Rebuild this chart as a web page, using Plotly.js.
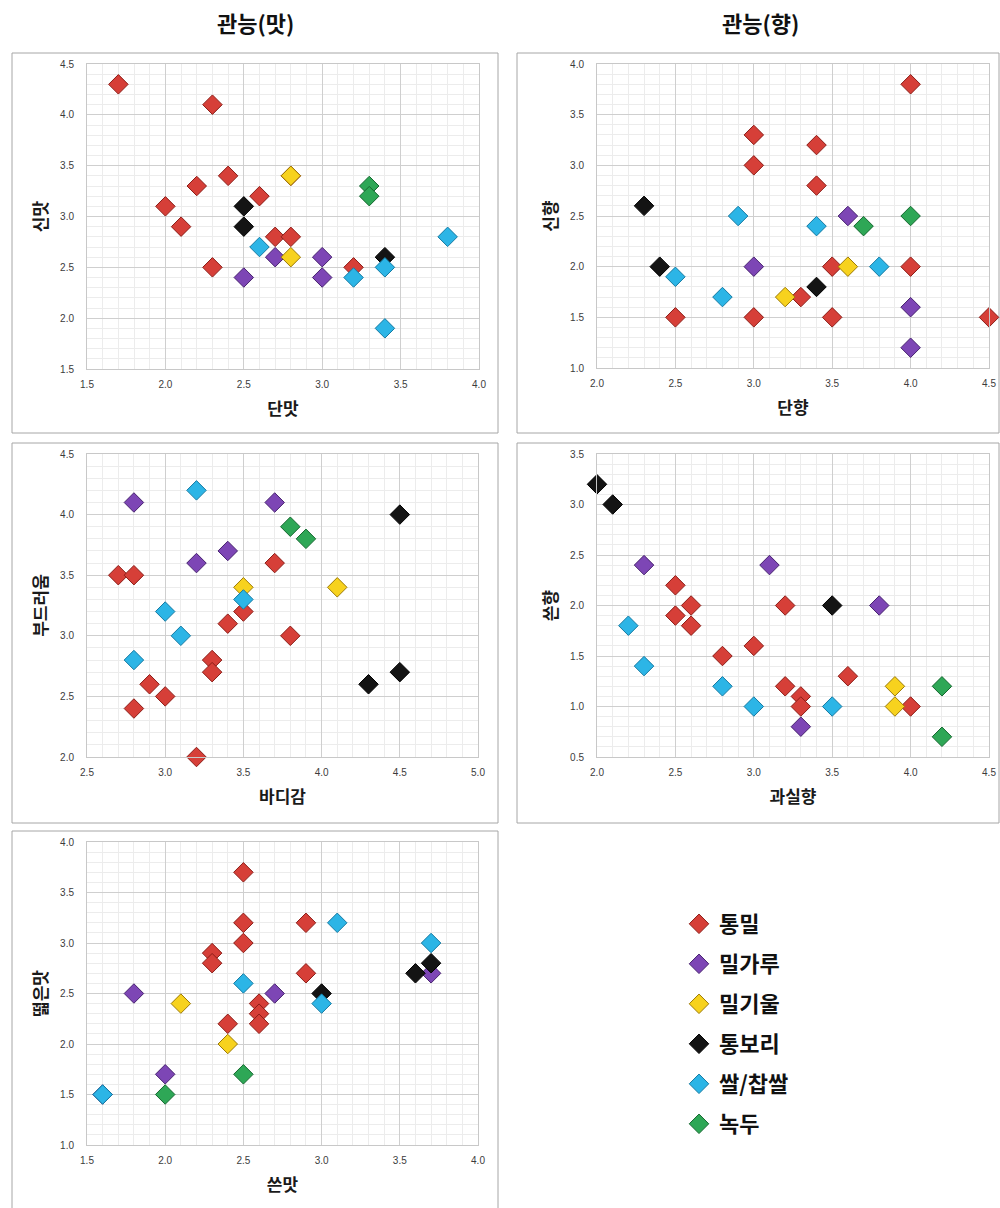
<!DOCTYPE html>
<html>
<head>
<meta charset="utf-8">
<script src="https://cdn.plot.ly/plotly-3.0.1.min.js"></script>
<style>
  html, body { margin: 0; padding: 0; background: #ffffff; }
  #chart { width: 1000px; height: 1208px; }
</style>
</head>
<body>
<div id="chart"></div>
<script>
// ---- categories ----
const seriesNames = ['통밀', '밀가루', '밀기울', '통보리', '쌀/찹쌀', '녹두'];

// ---- panel 1: 단맛 (x) vs 신맛 (y) ----
const p1_red_x    = [1.7, 2.3, 2.4, 2.2, 2.0, 2.1, 2.6, 2.7, 2.8, 2.3, 3.2, 2.8];
const p1_red_y    = [4.3, 4.1, 3.4, 3.3, 3.1, 2.9, 3.2, 2.8, 2.8, 2.5, 2.5, 3.4];
const p1_purple_x = [2.5, 2.7, 3.0, 3.0];
const p1_purple_y = [2.4, 2.6, 2.6, 2.4];
const p1_yellow_x = [2.8, 2.8];
const p1_yellow_y = [3.4, 2.6];
const p1_black_x  = [2.5, 2.5, 3.4];
const p1_black_y  = [3.1, 2.9, 2.6];
const p1_cyan_x   = [2.6, 3.2, 3.4, 3.4, 3.8];
const p1_cyan_y   = [2.7, 2.4, 2.5, 1.9, 2.8];
const p1_green_x  = [3.3, 3.3];
const p1_green_y  = [3.3, 3.2];

// ---- panel 2: 단향 (x) vs 신향 (y) ----
const p2_red_x    = [4.0, 3.0, 3.4, 3.0, 3.4, 3.5, 4.0, 3.3, 2.5, 3.0, 3.5, 4.5];
const p2_red_y    = [3.8, 3.3, 3.2, 3.0, 2.8, 2.0, 2.0, 1.7, 1.5, 1.5, 1.5, 1.5];
const p2_purple_x = [3.0, 3.6, 4.0, 4.0];
const p2_purple_y = [2.0, 2.5, 1.6, 1.2];
const p2_yellow_x = [3.2, 3.6];
const p2_yellow_y = [1.7, 2.0];
const p2_black_x  = [2.3, 2.4, 3.4];
const p2_black_y  = [2.6, 2.0, 1.8];
const p2_cyan_x   = [2.9, 3.4, 2.5, 2.8, 3.8];
const p2_cyan_y   = [2.5, 2.4, 1.9, 1.7, 2.0];
const p2_green_x  = [3.7, 4.0];
const p2_green_y  = [2.4, 2.5];

// ---- panel 3: 바디감 (x) vs 부드러움 (y) ----
const p3_red_x    = [2.7, 2.8, 3.7, 3.5, 3.4, 3.8, 3.3, 3.3, 2.9, 3.0, 2.8, 3.2];
const p3_red_y    = [3.5, 3.5, 3.6, 3.2, 3.1, 3.0, 2.8, 2.7, 2.6, 2.5, 2.4, 2.0];
const p3_purple_x = [2.8, 3.7, 3.4, 3.2];
const p3_purple_y = [4.1, 4.1, 3.7, 3.6];
const p3_yellow_x = [3.5, 4.1];
const p3_yellow_y = [3.4, 3.4];
const p3_black_x  = [4.5, 4.3, 4.5];
const p3_black_y  = [4.0, 2.6, 2.7];
const p3_cyan_x   = [3.2, 3.5, 3.0, 3.1, 2.8];
const p3_cyan_y   = [4.2, 3.3, 3.2, 3.0, 2.8];
const p3_green_x  = [3.8, 3.9];
const p3_green_y  = [3.9, 3.8];

// ---- panel 4: 과실향 (x) vs 쓴향 (y) ----
const p4_red_x    = [2.5, 2.6, 2.5, 2.6, 3.2, 3.0, 2.8, 3.6, 3.2, 3.3, 3.3, 4.0];
const p4_red_y    = [2.2, 2.0, 1.9, 1.8, 2.0, 1.6, 1.5, 1.3, 1.2, 1.1, 1.0, 1.0];
const p4_purple_x = [2.3, 3.1, 3.8, 3.3];
const p4_purple_y = [2.4, 2.4, 2.0, 0.8];
const p4_yellow_x = [3.9, 3.9];
const p4_yellow_y = [1.2, 1.0];
const p4_black_x  = [2.0, 2.1, 3.5];
const p4_black_y  = [3.2, 3.0, 2.0];
const p4_cyan_x   = [2.2, 2.3, 2.8, 3.0, 3.5];
const p4_cyan_y   = [1.8, 1.4, 1.2, 1.0, 1.0];
const p4_green_x  = [4.2, 4.2];
const p4_green_y  = [1.2, 0.7];

// ---- panel 5: 쓴맛 (x) vs 떫은맛 (y) ----
const p5_red_x    = [2.5, 2.5, 2.9, 2.5, 2.3, 2.3, 2.9, 2.6, 2.6, 2.6, 2.4];
const p5_red_y    = [3.7, 3.2, 3.2, 3.0, 2.9, 2.8, 2.7, 2.4, 2.3, 2.2, 2.2];
const p5_purple_x = [1.8, 2.7, 3.7, 2.0, 1.6];
const p5_purple_y = [2.5, 2.5, 2.7, 1.7, 1.5];
const p5_yellow_x = [2.1, 2.4];
const p5_yellow_y = [2.4, 2.0];
const p5_black_x  = [3.0, 3.6, 3.7];
const p5_black_y  = [2.5, 2.7, 2.8];
const p5_cyan_x   = [3.1, 3.7, 2.5, 3.0, 1.6];
const p5_cyan_y   = [3.2, 3.0, 2.6, 2.4, 1.5];
const p5_green_x  = [2.0, 2.5];
const p5_green_y  = [1.5, 1.7];

// ---- axis labels / titles ----
const panelTitles = ['관능(맛)', '관능(향)'];
const xTitles = ['단맛', '단향', '바디감', '과실향', '쓴맛'];
const yTitles = ['신맛', '신향', '부드러움', '쓴향', '떫은맛'];
const xRanges = [[1.5, 4.0], [2.0, 4.5], [2.5, 5.0], [2.0, 4.5], [1.5, 4.0]];
const yRanges = [[1.5, 4.5], [1.0, 4.0], [2.0, 4.5], [0.5, 3.5], [1.0, 4.0]];

// ---- build ----
const panels = [
  [[p1_red_x,p1_red_y],[p1_purple_x,p1_purple_y],[p1_yellow_x,p1_yellow_y],[p1_black_x,p1_black_y],[p1_cyan_x,p1_cyan_y],[p1_green_x,p1_green_y]],
  [[p2_red_x,p2_red_y],[p2_purple_x,p2_purple_y],[p2_yellow_x,p2_yellow_y],[p2_black_x,p2_black_y],[p2_cyan_x,p2_cyan_y],[p2_green_x,p2_green_y]],
  [[p3_red_x,p3_red_y],[p3_purple_x,p3_purple_y],[p3_yellow_x,p3_yellow_y],[p3_black_x,p3_black_y],[p3_cyan_x,p3_cyan_y],[p3_green_x,p3_green_y]],
  [[p4_red_x,p4_red_y],[p4_purple_x,p4_purple_y],[p4_yellow_x,p4_yellow_y],[p4_black_x,p4_black_y],[p4_cyan_x,p4_cyan_y],[p4_green_x,p4_green_y]],
  [[p5_red_x,p5_red_y],[p5_purple_x,p5_purple_y],[p5_yellow_x,p5_yellow_y],[p5_black_x,p5_black_y],[p5_cyan_x,p5_cyan_y],[p5_green_x,p5_green_y]]
];

const fillColors = ['#d63f38', '#7d46b5', '#f7d21e', '#141414', '#2cb5e6', '#2ea756'];
const lineColors = ['#8c1d17', '#47226f', '#9c7a06', '#000000', '#157aa2', '#15682f'];

const W = 1000, H = 1208;
const px = v => v / W;
const py = v => 1 - v / H;

// plot-area pixel boxes [left, right, top, bottom]
const boxes = [
  [87, 479, 64, 369],
  [597, 989, 64, 368],
  [87, 478, 454, 757],
  [597, 989, 454, 757],
  [87, 478, 842, 1145]
];
// outer frames
const frames = [
  [12, 498, 53, 433],
  [517, 999, 53, 433],
  [12, 498, 443, 823],
  [517, 999, 443, 823],
  [12, 498, 831, 1212]
];

const FONT_KR = '"Noto Sans CJK KR", "Noto Sans", sans-serif';
const traces = [];
panels.forEach((panel, pi) => {
  const xa = pi === 0 ? 'x' : 'x' + (pi + 1);
  const ya = pi === 0 ? 'y' : 'y' + (pi + 1);
  panel.forEach((s, si) => {
    traces.push({
      type: 'scatter', mode: 'markers', cliponaxis: false,
      x: s[0], y: s[1], xaxis: xa, yaxis: ya,
      name: seriesNames[si], legendgroup: 'g' + si,
      showlegend: pi === 0,
      marker: { symbol: 'diamond', size: 15, color: fillColors[si],
                line: { color: lineColors[si], width: 1 } },
      hoverinfo: 'x+y+name'
    });
  });
});

const layout = {
  width: W, height: H,
  margin: { l: 0, r: 0, t: 0, b: 0 },
  paper_bgcolor: '#ffffff', plot_bgcolor: '#ffffff',
  font: { family: FONT_KR, color: '#222' },
  showlegend: true,
  legend: {
    x: px(679), y: py(903), xanchor: 'left', yanchor: 'top',
    font: { family: FONT_KR, size: 22, color: '#111', weight: 'bold' },
    traceorder: 'grouped', tracegroupgap: 8.4,
    bgcolor: 'rgba(0,0,0,0)', itemsizing: 'trace'
  },
  annotations: [
    { text: '<b>' + panelTitles[0] + '</b>', xref: 'paper', yref: 'paper', x: px(255), y: py(22),
      xanchor: 'center', yanchor: 'middle', showarrow: false, font: { size: 22, family: FONT_KR, color: '#111' } },
    { text: '<b>' + panelTitles[1] + '</b>', xref: 'paper', yref: 'paper', x: px(760), y: py(22),
      xanchor: 'center', yanchor: 'middle', showarrow: false, font: { size: 22, family: FONT_KR, color: '#111' } }
  ],
  shapes: frames.map(f => ({
    type: 'rect', xref: 'paper', yref: 'paper', layer: 'below',
    x0: px(f[0]), x1: px(f[1]), y0: py(f[3]), y1: py(f[2]),
    line: { color: '#a6a6a6', width: 1 }, fillcolor: 'rgba(0,0,0,0)'
  }))
};

boxes.forEach((b, i) => {
  const sx = i === 0 ? 'xaxis' : 'xaxis' + (i + 1);
  const sy = i === 0 ? 'yaxis' : 'yaxis' + (i + 1);
  const xa = i === 0 ? 'x' : 'x' + (i + 1);
  const ya = i === 0 ? 'y' : 'y' + (i + 1);
  const common = {
    showgrid: true, gridcolor: '#cfcfcf', gridwidth: 1,
    zeroline: false, showline: true, linecolor: '#c8c8c8', mirror: true,
    tickformat: '.1f', dtick: 0.5, ticks: '',
    tickfont: { size: 10, color: '#3c3c3c', family: '"Liberation Sans", Arial, sans-serif' },
    minor: { dtick: 0.1, showgrid: true, gridcolor: '#ececec', gridwidth: 1 },
    fixedrange: true
  };
  layout[sx] = Object.assign({}, common, {
    domain: [px(b[0]), px(b[1])], range: xRanges[i], anchor: ya,
    tick0: xRanges[i][0], ticklabelstandoff: 6,
    title: { text: '<b>' + xTitles[i] + '</b>', standoff: 14,
             font: { size: 17, family: FONT_KR, color: '#1a1a1a' } }
  });
  layout[sy] = Object.assign({}, common, {
    domain: [py(b[3]), py(b[2])], range: yRanges[i], anchor: xa,
    tick0: yRanges[i][0], ticklabelstandoff: 10,
    title: { text: '<b>' + yTitles[i] + '</b>', standoff: 8,
             font: { size: 17, family: FONT_KR, color: '#1a1a1a' } }
  });
});

Plotly.newPlot('chart', traces, layout, { displayModeBar: false, responsive: false });
</script>
</body>
</html>
